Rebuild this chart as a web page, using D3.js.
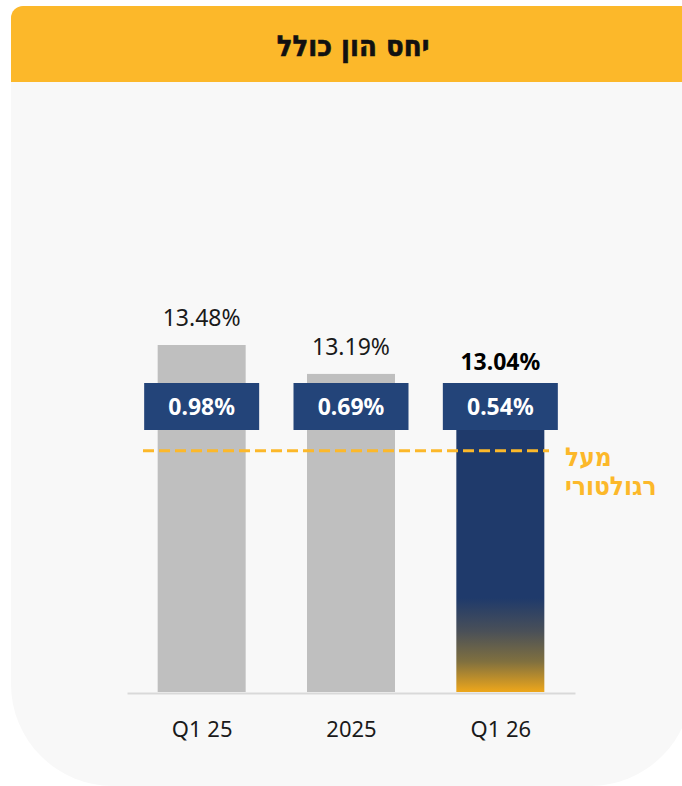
<!DOCTYPE html>
<html lang="he">
<head>
<meta charset="utf-8">
<script src="https://cdn.jsdelivr.net/npm/d3@7"></script>
<style>
  html, body { margin: 0; padding: 0; background: #fff; }
  svg { display: block; }
</style>
</head>
<body>
<div id="chart"></div>
<script>
  // data
  var title = 'יחס הון כולל';
  var categories = ['Q1 25', '2025', 'Q1 26'];
  var totalRatio = [13.48, 13.19, 13.04];
  var aboveReg = [0.98, 0.69, 0.54];
  var regLevel = 12.42;
  var regLabel = ['מעל', 'רגולטורי'];

  var width = 682, height = 786;
  var latin = '"Noto Sans", "Open Sans", sans-serif';
  var hebrew = '"DejaVu Sans Condensed", "DejaVu Sans", sans-serif';

  var svg = d3.select('#chart')
    .append('svg')
    .attr('width', width)
    .attr('height', height);

  var defs = svg.append('defs');
  var grad = defs.append('linearGradient')
    .attr('id', 'lastBar')
    .attr('x1', 0).attr('x2', 0)
    .attr('y1', 0).attr('y2', 1);
  [[0, '#1f3a6b'], [0.69, '#1f3a6b'], [0.80, '#4a5058'], [0.90, '#80703f'], [1, '#eea71b']]
    .forEach(function(s) {
      grad.append('stop').attr('offset', s[0]).attr('stop-color', s[1]);
    });

  // card: small radius top-left, big rounded bottom corners
  var cx0 = 11, cy0 = 6, cx1 = 692, cy1 = 786, rTop = 12, rBot = 102;
  var card = d3.path();
  card.moveTo(cx0 + rTop, cy0);
  card.lineTo(cx1, cy0);
  card.lineTo(cx1, cy1 - rBot);
  card.arcTo(cx1, cy1, cx1 - rBot, cy1, rBot);
  card.lineTo(cx0 + rBot, cy1);
  card.arcTo(cx0, cy1, cx0, cy1 - rBot, rBot);
  card.lineTo(cx0, cy0 + rTop);
  card.arcTo(cx0, cy0, cx0 + rTop, cy0, rTop);
  card.closePath();
  svg.append('path')
    .attr('d', card.toString())
    .attr('fill', '#f8f8f8');

  // header band
  var head = d3.path();
  head.moveTo(cx0 + rTop, cy0);
  head.lineTo(cx1, cy0);
  head.lineTo(cx1, 82);
  head.lineTo(cx0, 82);
  head.lineTo(cx0, cy0 + rTop);
  head.arcTo(cx0, cy0, cx0 + rTop, cy0, rTop);
  head.closePath();
  svg.append('path')
    .attr('d', head.toString())
    .attr('fill', '#fcb82a');

  svg.append('text')
    .attr('x', 353)
    .attr('y', 56)
    .attr('text-anchor', 'middle')
    .attr('direction', 'rtl')
    .style('font-family', hebrew)
    .style('font-weight', 'bold')
    .style('font-size', '29px')
    .style('fill', '#111')
    .style('stroke', '#111')
    .style('stroke-width', 0.6)
    .text(title);

  var x = d3.scalePoint()
    .domain(categories)
    .range([127, 575])
    .padding(0.5);

  var y = d3.scaleLinear()
    .domain([10, 13.48])
    .range([692, 345]);

  var barW = 88, boxW = 115, boxTop = 383, boxH = 47;
  var rows = categories.map(function(c, i) {
    return { cat: c, total: totalRatio[i], above: aboveReg[i], last: i === categories.length - 1 };
  });

  svg.selectAll('rect.bar')
    .data(rows)
    .enter().append('rect')
    .attr('class', 'bar')
    .attr('x', function(d) { return x(d.cat) - barW / 2; })
    .attr('width', barW)
    .attr('y', function(d) { return y(d.total); })
    .attr('height', function(d) { return y(10) - y(d.total); })
    .attr('fill', function(d) { return d.last ? 'url(#lastBar)' : '#bfbfbf'; });

  // baseline
  svg.append('g')
    .attr('transform', 'translate(0,' + (y(10) + 1) + ')')
    .call(d3.axisBottom(x).tickSize(0).tickPadding(28))
    .call(function(g) {
      g.select('.domain').attr('stroke', '#d9d9d9').attr('stroke-width', 2);
      g.selectAll('text')
        .style('font-family', latin)
        .style('font-size', '22px')
        .style('fill', '#1a1a1a');
    });

  // regulatory line
  svg.append('line')
    .attr('x1', 143)
    .attr('x2', 549)
    .attr('y1', y(regLevel))
    .attr('y2', y(regLevel))
    .attr('stroke', '#fcb82a')
    .attr('stroke-width', 3)
    .attr('stroke-dasharray', '11,5');

  svg.selectAll('text.reg')
    .data(regLabel)
    .enter().append('text')
    .attr('class', 'reg')
    .attr('x', 565)
    .attr('y', function(d, i) { return y(regLevel) + 15 + i * 29; })
    .attr('text-anchor', 'start')
    .style('font-family', hebrew)
    .style('font-weight', 'bold')
    .style('font-size', '26px')
    .style('fill', '#fcb82a')
    .text(function(d) { return d; });

  // total value labels
  svg.selectAll('text.total')
    .data(rows)
    .enter().append('text')
    .attr('class', 'total')
    .attr('x', function(d) { return x(d.cat); })
    .attr('y', function(d) { return y(d.total) - 19; })
    .attr('text-anchor', 'middle')
    .style('font-family', latin)
    .style('font-size', function(d) { return d.last ? '23px' : '23px'; })
    .style('font-weight', function(d) { return d.last ? 'bold' : 'normal'; })
    .style('fill', function(d) { return d.last ? '#000' : '#1a1a1a'; })
    .text(function(d) { return d.total.toFixed(2) + '%'; });

  // navy boxes with margin above regulation
  var boxes = svg.selectAll('g.box')
    .data(rows)
    .enter().append('g')
    .attr('class', 'box');

  boxes.append('rect')
    .attr('x', function(d) { return x(d.cat) - boxW / 2; })
    .attr('y', boxTop)
    .attr('width', boxW)
    .attr('height', boxH)
    .attr('fill', '#234479');

  boxes.append('text')
    .attr('x', function(d) { return x(d.cat); })
    .attr('y', boxTop + boxH / 2 + 8)
    .attr('text-anchor', 'middle')
    .style('font-family', latin)
    .style('font-weight', 'bold')
    .style('font-size', '23px')
    .style('fill', '#fff')
    .text(function(d) { return d.above.toFixed(2) + '%'; });
</script>
</body>
</html>
